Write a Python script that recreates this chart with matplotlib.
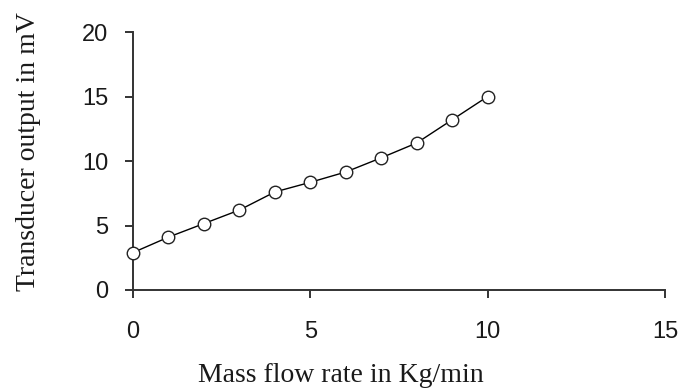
import matplotlib
matplotlib.use('Agg')

import matplotlib.pyplot as plt

# Mass flow rate (Kg/min) vs transducer output (mV)
flow_rate = [0, 1, 2, 3, 4, 5, 6, 7, 8, 9, 10]
output_mv = [2.9, 4.1, 5.15, 6.2, 7.6, 8.35, 9.15, 10.25, 11.4, 13.2, 15.0]

x_ticks = [0, 5, 10, 15]
y_ticks = [0, 5, 10, 15, 20]

fig = plt.figure(figsize=(6.8, 3.89), dpi=100)
ax = fig.add_axes([0.1956, 0.2545, 0.7824, 0.6632])

ax.plot(flow_rate, output_mv, color='black', linewidth=1.0,
        marker='o', markersize=9, markerfacecolor='white',
        markeredgecolor='#222222', markeredgewidth=1.0, clip_on=False, zorder=3)

ax.set_xlim(0, 15)
ax.set_ylim(0, 20)
ax.set_xticks(x_ticks)
ax.set_yticks(y_ticks)

tick_font = {'family': 'Liberation Sans', 'size': 17}
ax.set_xticklabels([str(t) for t in x_ticks], fontdict=tick_font, color='#1a1a1a')
ax.set_yticklabels([str(t) for t in y_ticks], fontdict=tick_font, color='#1a1a1a')

for side in ('top', 'right'):
    ax.spines[side].set_visible(False)
for side in ('left', 'bottom'):
    ax.spines[side].set_linewidth(1.4)
    ax.spines[side].set_color('#333333')

ax.tick_params(direction='out', length=6, width=1.4, color='#333333')
ax.tick_params(axis='x', pad=16)
ax.tick_params(axis='y', pad=12)

label_font = {'family': 'Liberation Serif', 'size': 20, 'color': '#1a1a1a'}
ax.set_xlabel('Mass flow rate in Kg/min', fontdict=label_font, va='center')
ax.xaxis.set_label_coords(0.39, -0.33)
ax.set_ylabel('Transducer output in mV', fontdict=label_font, va='center')
ax.yaxis.set_label_coords(-0.197, 0.535)

fig.savefig('out.png', dpi=100)
